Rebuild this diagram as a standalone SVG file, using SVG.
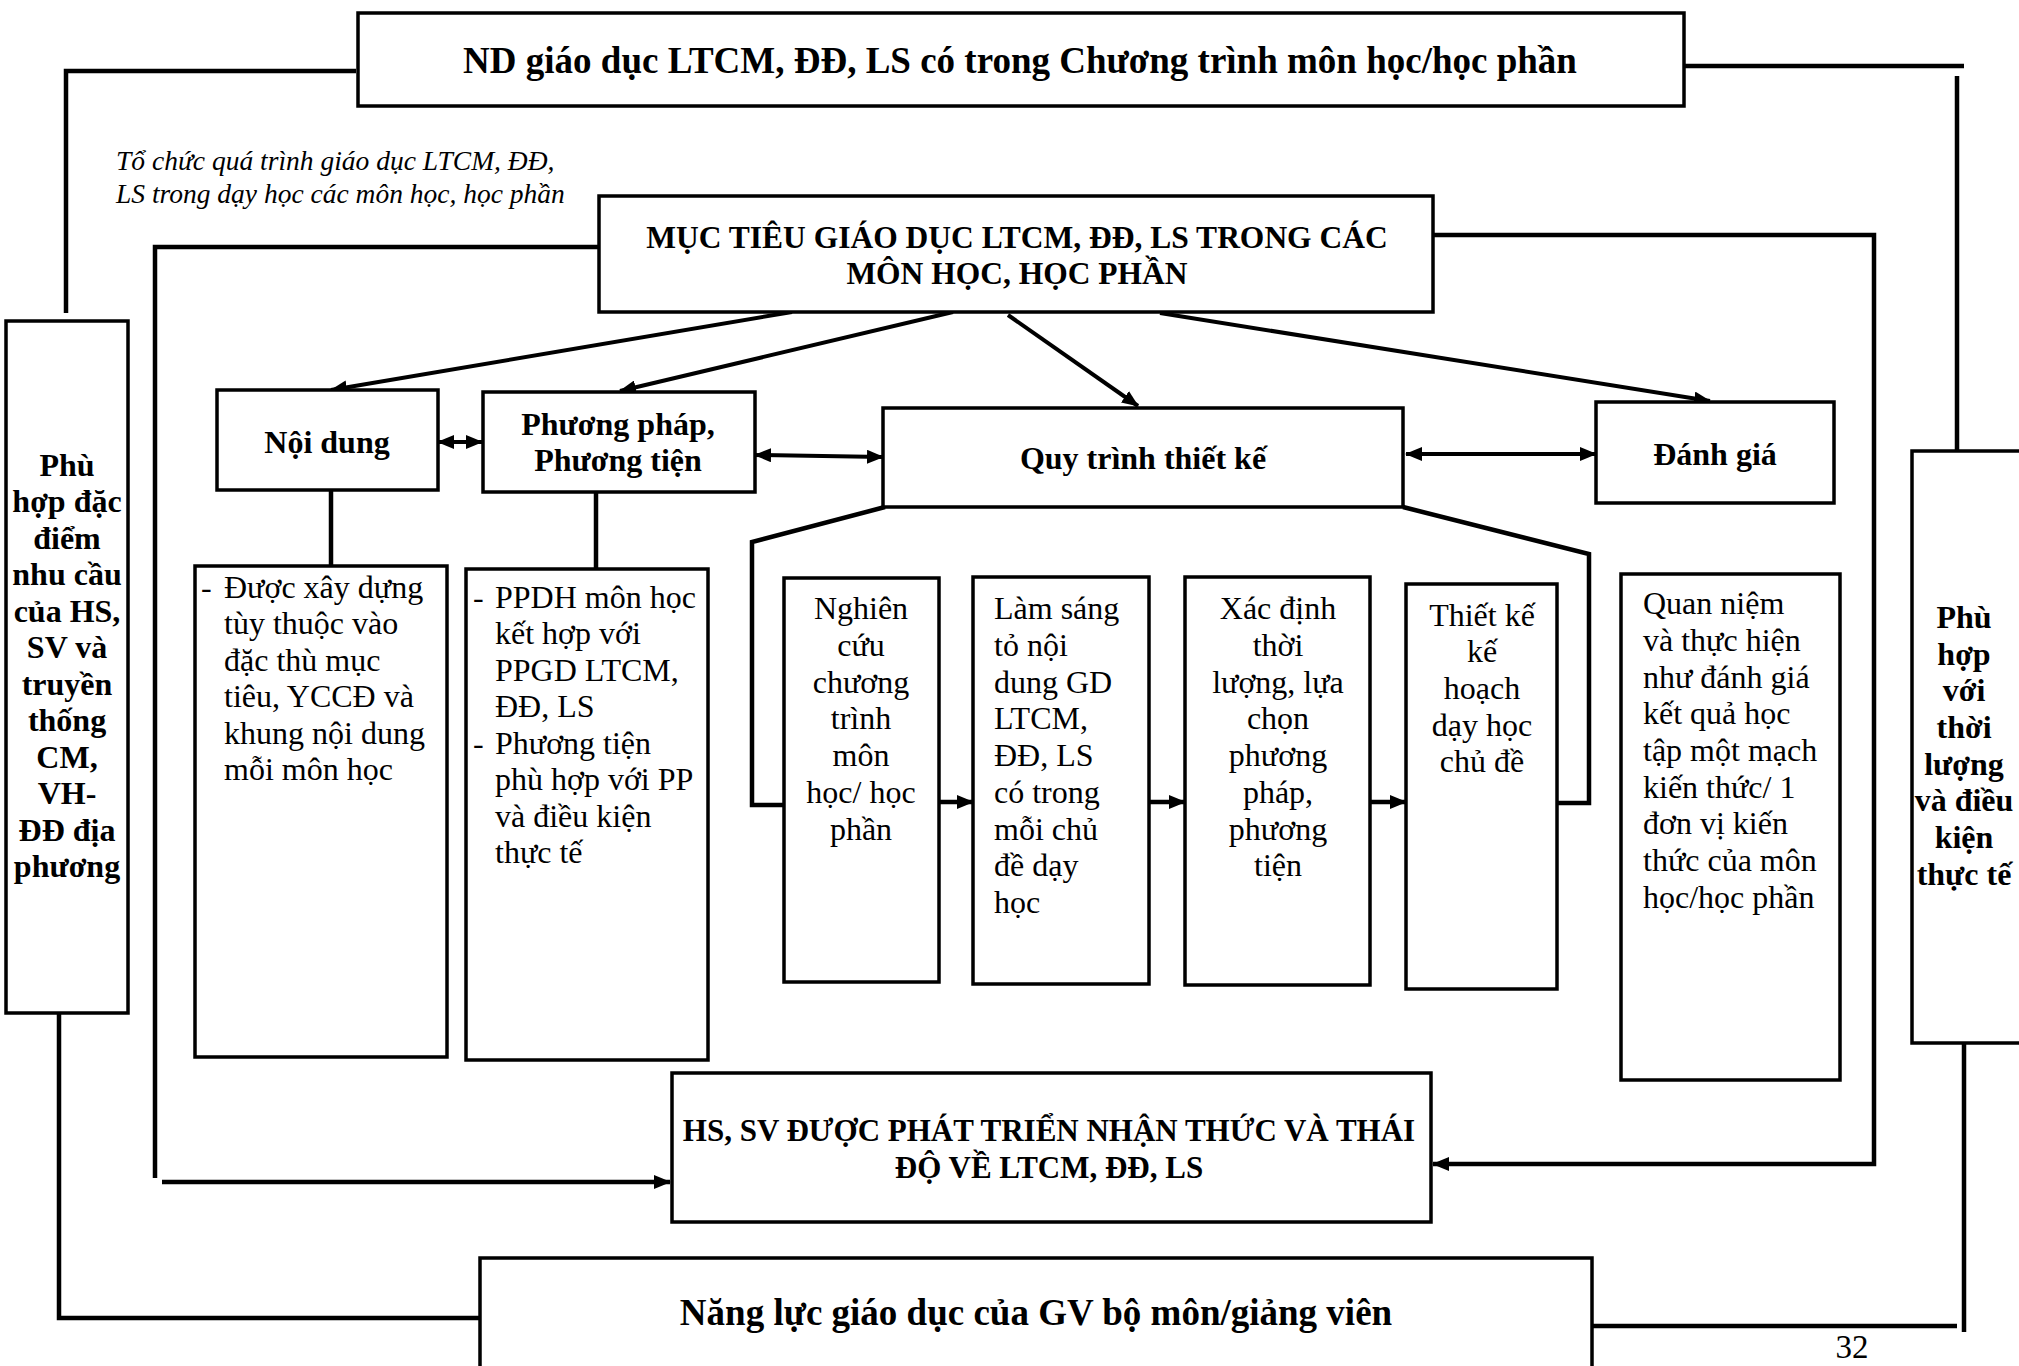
<svg xmlns="http://www.w3.org/2000/svg" width="2019" height="1366" viewBox="0 0 2019 1366">
<style>
.box{fill:#fff;stroke:#000;stroke-width:3.5}
.ln{fill:none;stroke:#000;stroke-width:4.5;stroke-linejoin:miter}
.ar{fill:none;stroke:#000;stroke-width:4}
.b{font-family:"Liberation Serif","Times New Roman",serif;font-weight:bold;font-size:32px;fill:#000}
.r{font-family:"Liberation Serif","Times New Roman",serif;font-size:32px;fill:#000}
.i{font-family:"Liberation Serif","Times New Roman",serif;font-style:italic;font-size:27.5px;fill:#000}
.m{text-anchor:middle}
</style>
<defs>
<marker id="ah" markerWidth="17" markerHeight="14" refX="16" refY="7" orient="auto-start-reverse" markerUnits="userSpaceOnUse"><path d="M0,0 L17,7 L0,14 z" fill="#000"/></marker>
</defs>
<rect width="2019" height="1366" fill="#fff"/>

<g id="connectors">
<path class="ln" d="M356,71 H66 V313"/>
<path class="ln" d="M1684,66 H1964"/>
<path class="ln" d="M1957,76 V451"/>
<path class="ln" d="M599,247 H155 V1178"/>
<path class="ln" d="M162,1182 H670" marker-end="url(#ah)"/>
<path class="ln" d="M1433,235 H1874 V1164 H1433" marker-end="url(#ah)"/>
<path class="ln" d="M59,1012 V1318 H480"/>
<path class="ln" d="M1592,1326 H1957"/>
<path class="ln" d="M1964,1043 V1332"/>
<path class="ar" d="M792,312 L331,390" marker-end="url(#ah)"/>
<path class="ar" d="M953,312 L620,391" marker-end="url(#ah)"/>
<path class="ar" d="M1008,315 L1138,406" marker-end="url(#ah)"/>
<path class="ar" d="M1160,313 L1710,401" marker-end="url(#ah)"/>
<path class="ar" d="M438,442 L482,442" marker-start="url(#ah)" marker-end="url(#ah)"/>
<path class="ar" d="M755,455 L883,457" marker-start="url(#ah)" marker-end="url(#ah)"/>
<path class="ar" d="M1406,454 L1596,454" marker-start="url(#ah)" marker-end="url(#ah)"/>
<path class="ln" d="M331,490 V566"/>
<path class="ln" d="M596,493 V569"/>
<path class="ln" d="M885,507 L752,542 V805 H784"/>
<path class="ln" d="M1403,507 L1589,554 V803 H1557"/>
<path class="ln" d="M939,802 H973" marker-end="url(#ah)"/>
<path class="ln" d="M1149,802 H1185" marker-end="url(#ah)"/>
<path class="ln" d="M1370,802 H1406" marker-end="url(#ah)"/>
</g>

<g id="box-nd">
<rect class="box" x="358" y="13" width="1326" height="93"/>
<text class="b m" x="1020" y="73" style="font-size:37px">ND giáo dục LTCM, ĐĐ, LS có trong Chương trình môn học/học phần</text>
</g>

<g id="label-tochuc">
<text class="i" x="116" y="170">Tổ chức quá trình giáo dục LTCM, ĐĐ,</text>
<text class="i" x="116" y="203">LS trong dạy học các môn học, học phần</text>
</g>

<g id="box-muctieu">
<rect class="box" x="599" y="196" width="834" height="116"/>
<text class="b m" x="1017" y="248" style="font-size:31.5px">MỤC TIÊU GIÁO DỤC LTCM, ĐĐ, LS TRONG CÁC</text>
<text class="b m" x="1017" y="284" style="font-size:31.5px">MÔN HỌC, HỌC PHẦN</text>
</g>

<g id="box-left">
<rect class="box" x="6" y="321" width="122" height="692"/>
<text class="b m" x="67"><tspan x="67" y="476">Phù</tspan><tspan x="67" y="512">hợp đặc</tspan><tspan x="67" y="549">điểm</tspan><tspan x="67" y="585">nhu cầu</tspan><tspan x="67" y="622">của HS,</tspan><tspan x="67" y="658">SV và</tspan><tspan x="67" y="695">truyền</tspan><tspan x="67" y="731">thống</tspan><tspan x="67" y="768">CM,</tspan><tspan x="67" y="804">VH-</tspan><tspan x="67" y="841">ĐĐ địa</tspan><tspan x="67" y="877">phương</tspan></text>
</g>

<g id="box-right">
<rect class="box" x="1912" y="451" width="130" height="592"/>
<text class="b m" x="1964"><tspan x="1964" y="628">Phù</tspan><tspan x="1964" y="665">hợp</tspan><tspan x="1964" y="701">với</tspan><tspan x="1964" y="738">thời</tspan><tspan x="1964" y="775">lượng</tspan><tspan x="1964" y="811">và điều</tspan><tspan x="1964" y="848">kiện</tspan><tspan x="1964" y="885">thực tế</tspan></text>
</g>

<g id="box-noidung">
<rect class="box" x="217" y="390" width="221" height="100"/>
<text class="b m" x="327" y="453">Nội dung</text>
</g>

<g id="box-noidung-detail">
<rect class="box" x="195" y="566" width="252" height="491"/>
<text class="r" x="201" y="598">-</text>
<text class="r"><tspan x="224" y="598">Được xây dựng</tspan><tspan x="224" y="634">tùy thuộc vào</tspan><tspan x="224" y="671">đặc thù mục</tspan><tspan x="224" y="707">tiêu, YCCĐ và</tspan><tspan x="224" y="744">khung nội dung</tspan><tspan x="224" y="780">mỗi môn học</tspan></text>
</g>

<g id="box-phuongphap">
<rect class="box" x="483" y="392" width="272" height="100"/>
<text class="b m" x="618" y="435">Phương pháp,</text>
<text class="b m" x="618" y="471">Phương tiện</text>
</g>

<g id="box-phuongphap-detail">
<rect class="box" x="466" y="569" width="242" height="491"/>
<text class="r" x="473" y="608">-</text>
<text class="r" x="473" y="754">-</text>
<text class="r"><tspan x="495" y="608">PPDH môn học</tspan><tspan x="495" y="644">kết hợp với</tspan><tspan x="495" y="681">PPGD LTCM,</tspan><tspan x="495" y="717">ĐĐ, LS</tspan><tspan x="495" y="754">Phương tiện</tspan><tspan x="495" y="790">phù hợp với PP</tspan><tspan x="495" y="827">và điều kiện</tspan><tspan x="495" y="863">thực tế</tspan></text>
</g>

<g id="box-quytrinh">
<rect class="box" x="883" y="408" width="520" height="99"/>
<text class="b m" x="1143" y="469">Quy trình thiết kế</text>
</g>

<g id="box-nghiencuu">
<rect class="box" x="784" y="578" width="155" height="404"/>
<text class="r m" x="861"><tspan x="861" y="619">Nghiên</tspan><tspan x="861" y="656">cứu</tspan><tspan x="861" y="693">chương</tspan><tspan x="861" y="729">trình</tspan><tspan x="861" y="766">môn</tspan><tspan x="861" y="803">học/ học</tspan><tspan x="861" y="840">phần</tspan></text>
</g>

<g id="box-lamsang">
<rect class="box" x="973" y="577" width="176" height="407"/>
<text class="r"><tspan x="994" y="619">Làm sáng</tspan><tspan x="994" y="656">tỏ nội</tspan><tspan x="994" y="693">dung GD</tspan><tspan x="994" y="729">LTCM,</tspan><tspan x="994" y="766">ĐĐ, LS</tspan><tspan x="994" y="803">có trong</tspan><tspan x="994" y="840">mỗi chủ</tspan><tspan x="994" y="876">đề dạy</tspan><tspan x="994" y="913">học</tspan></text>
</g>

<g id="box-xacdinh">
<rect class="box" x="1185" y="577" width="185" height="408"/>
<text class="r m" x="1278"><tspan x="1278" y="619">Xác định</tspan><tspan x="1278" y="656">thời</tspan><tspan x="1278" y="693">lượng, lựa</tspan><tspan x="1278" y="729">chọn</tspan><tspan x="1278" y="766">phương</tspan><tspan x="1278" y="803">pháp,</tspan><tspan x="1278" y="840">phương</tspan><tspan x="1278" y="876">tiện</tspan></text>
</g>

<g id="box-thietke">
<rect class="box" x="1406" y="584" width="151" height="405"/>
<text class="r m" x="1482"><tspan x="1482" y="626">Thiết kế</tspan><tspan x="1482" y="662">kế</tspan><tspan x="1482" y="699">hoạch</tspan><tspan x="1482" y="736">dạy học</tspan><tspan x="1482" y="772">chủ đề</tspan></text>
</g>

<g id="box-danhgia">
<rect class="box" x="1596" y="402" width="238" height="101"/>
<text class="b m" x="1715" y="465">Đánh giá</text>
</g>

<g id="box-danhgia-detail">
<rect class="box" x="1621" y="574" width="219" height="506"/>
<text class="r"><tspan x="1643" y="614">Quan niệm</tspan><tspan x="1643" y="651">và thực hiện</tspan><tspan x="1643" y="688">như đánh giá</tspan><tspan x="1643" y="724">kết quả học</tspan><tspan x="1643" y="761">tập một mạch</tspan><tspan x="1643" y="798">kiến thức/ 1</tspan><tspan x="1643" y="834">đơn vị kiến</tspan><tspan x="1643" y="871">thức của môn</tspan><tspan x="1643" y="908">học/học phần</tspan></text>
</g>

<g id="box-hssv">
<rect class="box" x="672" y="1073" width="759" height="149"/>
<text class="b m" x="1049" y="1141" style="font-size:31px">HS, SV ĐƯỢC PHÁT TRIỂN NHẬN THỨC VÀ THÁI</text>
<text class="b m" x="1049" y="1178" style="font-size:31px">ĐỘ VỀ LTCM, ĐĐ, LS</text>
</g>

<g id="box-nangluc">
<rect class="box" x="480" y="1258" width="1112" height="112"/>
<text class="b m" x="1036" y="1325" style="font-size:37px">Năng lực giáo dục của GV bộ môn/giảng viên</text>
</g>

<g id="page-number">
<text class="r m" x="1852" y="1358" style="font-size:33px">32</text>
</g>
</svg>
